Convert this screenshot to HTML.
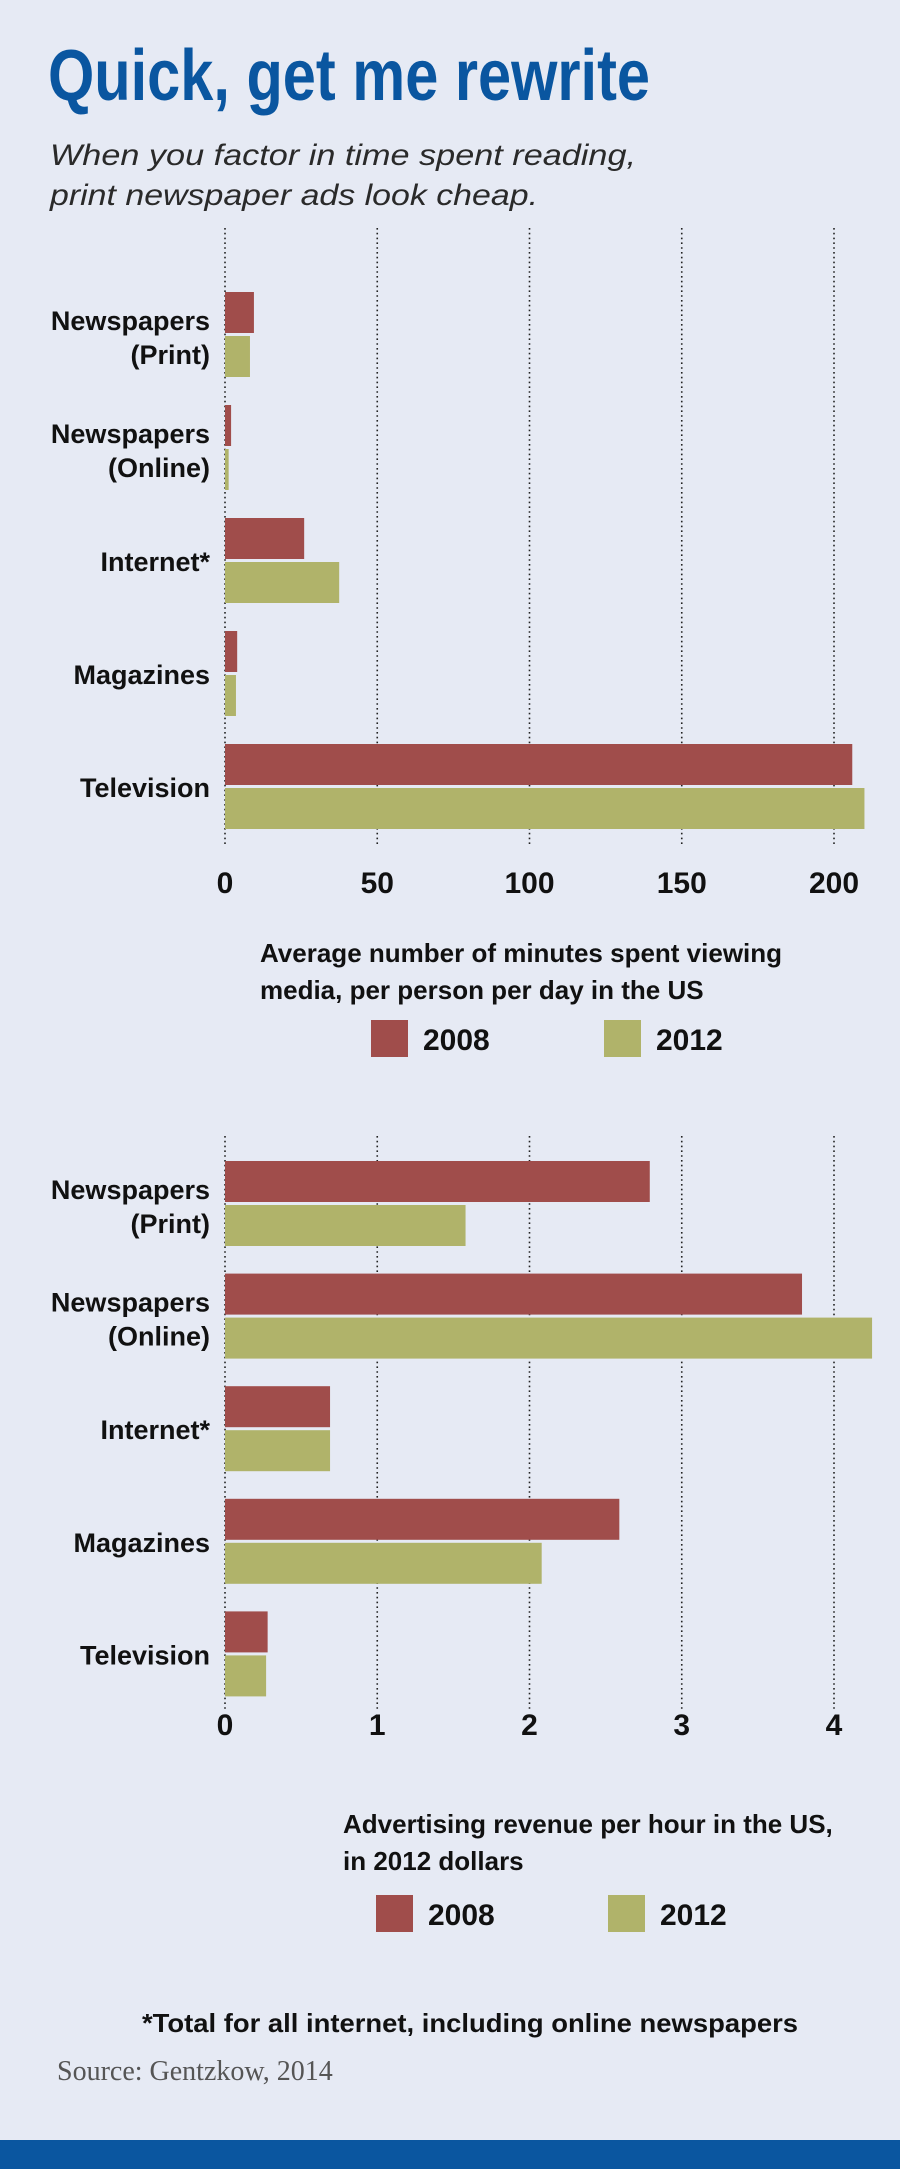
<!DOCTYPE html>
<html><head><meta charset="utf-8"><style>
html,body{margin:0;padding:0;background:#e6eaf4;}
svg{display:block;}
text{font-family:"Liberation Sans",sans-serif;}
</style></head><body>
<svg id="chart" width="900" height="2169" viewBox="0 0 900 2169" xmlns="http://www.w3.org/2000/svg">
<rect x="0" y="0" width="900" height="2169" fill="#e6eaf4"/>
<text x="48" y="100" style="font-family:'Liberation Sans Narrow','Liberation Sans',sans-serif" font-weight="bold" font-size="72" fill="#0a56a0" textLength="602" lengthAdjust="spacingAndGlyphs">Quick, get me rewrite</text>
<text x="50" y="165" font-style="italic" font-size="30" fill="#2a2a2a" textLength="586" lengthAdjust="spacingAndGlyphs">When you factor in time spent reading,</text>
<text x="50" y="205" font-style="italic" font-size="30" fill="#2a2a2a" textLength="488" lengthAdjust="spacingAndGlyphs">print newspaper ads look cheap.</text>
<g id="c1"></g>
<g id="c2"></g>
<text x="142" y="2032" font-weight="bold" font-size="26" fill="#111" textLength="656" lengthAdjust="spacingAndGlyphs">*Total for all internet, including online newspapers</text>
<text x="57" y="2080" style="font-family:'Liberation Serif',serif" font-size="28" fill="#555">Source: Gentzkow, 2014</text>
<rect x="0" y="2140" width="900" height="29" fill="#0a56a0"/>
</svg>
<script>
const categories = [["Newspapers","(Print)"],["Newspapers","(Online)"],["Internet*"],["Magazines"],["Television"]];
const minutes2008 = [9.5, 2, 26, 4, 206];
const minutes2012 = [8.2, 1.2, 37.5, 3.6, 210];
const minutesTicks = [0, 50, 100, 150, 200];
const revenue2008 = [2.79, 3.79, 0.69, 2.59, 0.28];
const revenue2012 = [1.58, 4.25, 0.69, 2.08, 0.27];
const revenueTicks = [0, 1, 2, 3, 4];
const seriesNames = ["2008", "2012"];

const NS = "http://www.w3.org/2000/svg";
const RED = "#a04d4b", GREEN = "#b0b36a";
function mk(tag, attrs, parent, txt) {
  const e = document.createElementNS(NS, tag);
  for (const k in attrs) e.setAttribute(k, attrs[k]);
  if (txt !== undefined) e.textContent = txt;
  parent.appendChild(e);
  return e;
}
function draw(g, cfg) {
  const x0 = 225, pxPerTick = 152.25;
  const step = cfg.ticks[1] - cfg.ticks[0];
  const xs = v => x0 + (v - cfg.ticks[0]) / step * pxPerTick;
  const ys = i => cfg.firstTop + i * cfg.spacing;
  cfg.ticks.forEach(t => {
    const l = mk("line", {x1: xs(t), x2: xs(t), y1: cfg.gridTop, y2: cfg.gridBottom, stroke: "#222", "stroke-width": 1.6, "stroke-dasharray": "1.6 3.2"}, g);
    
    
    const tx = mk("text", {x: xs(t), y: cfg.tickY, "text-anchor": "middle", "font-weight": "bold", "font-size": 30, fill: "#111"}, g, String(t));
    
    
  });
  categories.forEach((c, i) => {
    const top = ys(i);
    const b1 = mk("rect", {x: x0, y: top, width: xs(cfg.a[i]) - x0, height: 41, fill: RED}, g);
    
    
    const b2 = mk("rect", {x: x0, y: top + 44, width: xs(cfg.b[i]) - x0, height: 41, fill: GREEN}, g);
    
    
    const mid = top + 43;
    c.forEach((ln, j) => {
      const yy = c.length === 1 ? mid + 10 : mid - 5 + j * 34;
      const t = mk("text", {x: 210, y: yy, "text-anchor": "end", "font-weight": "bold", "font-size": 27, fill: "#111"}, g, ln);
      
      
    });
  });
  cfg.title.forEach((ln, j) => {
    const t = mk("text", {x: cfg.titleX, y: cfg.titleY + j * 37, "font-weight": "bold", "font-size": 26, fill: "#111"}, g, ln);
    
    
  });
  [RED, GREEN].forEach((col, k) => {
    const sx = cfg.legX[k];
    const r = mk("rect", {x: sx, y: cfg.legY, width: 37, height: 37, fill: col}, g);
    
    
    const t = mk("text", {x: sx + 52, y: cfg.legY + 30, "font-weight": "bold", "font-size": 30, fill: "#111"}, g, seriesNames[k]);
    
    
  });
}
draw(document.getElementById("c1"), {a: minutes2008, b: minutes2012, ticks: minutesTicks,
  firstTop: 292, spacing: 113, gridTop: 228, gridBottom: 846, tickY: 893,
  title: ["Average number of minutes spent viewing", "media, per person per day in the US"], titleX: 260, titleY: 962,
  legX: [371, 604], legY: 1020});
draw(document.getElementById("c2"), {a: revenue2008, b: revenue2012, ticks: revenueTicks,
  firstTop: 1161, spacing: 112.6, gridTop: 1136, gridBottom: 1712, tickY: 1735,
  title: ["Advertising revenue per hour in the US,", "in 2012 dollars"], titleX: 343, titleY: 1833,
  legX: [376, 608], legY: 1895});
</script>
</body></html>
